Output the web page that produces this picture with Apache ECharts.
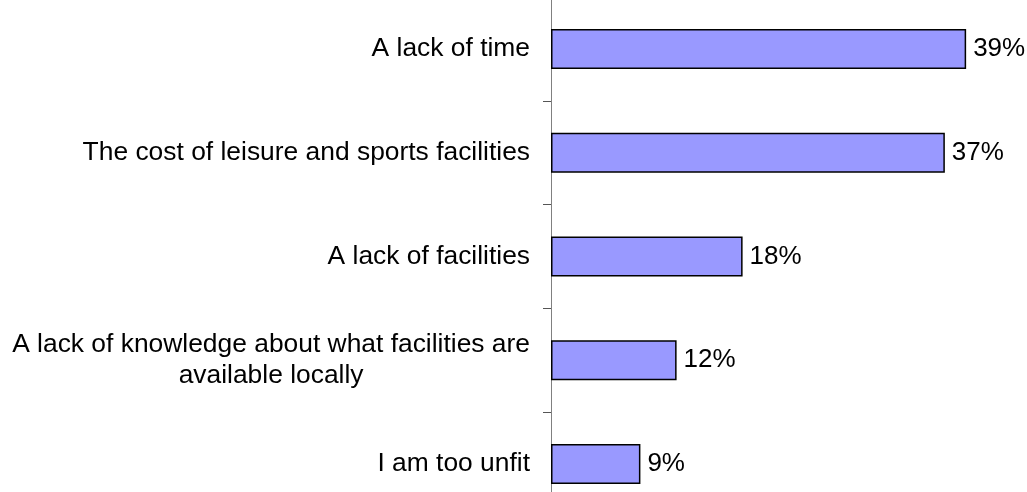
<!DOCTYPE html>
<html>
<head>
<meta charset="utf-8">
<script src="https://cdn.jsdelivr.net/npm/echarts@6/dist/echarts.min.js"></script>
<style>
  html, body { margin: 0; padding: 0; background: #fff; }
  #main { width: 1027px; height: 492px; }
</style>
</head>
<body>
<div id="main"></div>
<script>
// categories, top to bottom
const categories = [
  'A lack of time',
  'The cost of leisure and sports facilities',
  'A lack of facilities',
  'A lack of knowledge about what facilities are\navailable locally',
  'I am too unfit'
];
// bar lengths as drawn
const values = [39, 37, 18, 11.8, 8.4];
// printed labels
const valueLabels = ['39%', '37%', '18%', '12%', '9%'];

const chart = echarts.init(document.getElementById('main'));

const option = {
  animation: false,
  grid: { left: 551, top: -3, width: 479, height: 519, outerBoundsMode: 'none', containLabel: false },
  xAxis: {
    type: 'value',
    min: 0,
    max: 45,
    show: false
  },
  yAxis: {
    type: 'category',
    inverse: true,
    data: categories,
    axisLine: { show: true, lineStyle: { color: '#808080', width: 1 } },
    axisTick: { show: true, length: 8, lineStyle: { color: '#555' } },
    axisLabel: {
      margin: 21,
      // centre each line of a wrapped label under the longest one
      formatter: function (v) {
        return v.split('\n').map(function (s) { return '{c|' + s + '}'; }).join('\n');
      },
      rich: {
        c: {
          align: 'center',
          fontFamily: 'Liberation Sans, Arial, sans-serif',
          fontSize: 26.4,
          lineHeight: 31,
          color: '#000'
        }
      }
    }
  },
  series: [{
    type: 'bar',
    data: values,
    barWidth: 40,
    itemStyle: { color: '#9999ff', borderColor: '#000', borderWidth: 1.5 },
    label: {
      show: true,
      position: 'right',
      distance: 7,
      fontFamily: 'Liberation Sans, Arial, sans-serif',
      fontSize: 26,
      color: '#000',
      formatter: function (p) { return valueLabels[p.dataIndex]; }
    }
  }]
};

chart.setOption(option);
</script>
</body>
</html>
